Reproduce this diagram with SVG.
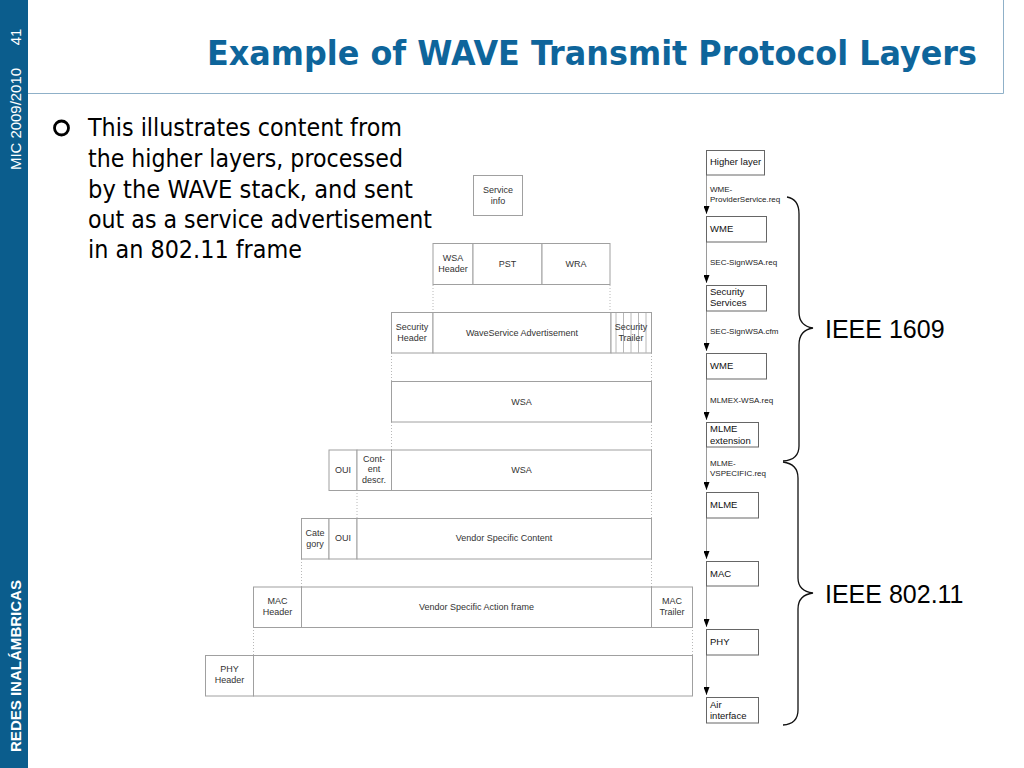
<svg xmlns="http://www.w3.org/2000/svg" width="1024" height="768" viewBox="0 0 1024 768">
<defs>
<style>
.bx{fill:#fff;stroke:#a0a0a0;stroke-width:1}
.rb{fill:#fff;stroke:#666;stroke-width:1}
.dot{stroke:#b8b8b8;stroke-width:1;stroke-dasharray:1 2;fill:none}
.hatch{stroke:#b8b8b8;stroke-width:1}
.t{font-family:"Liberation Sans",Arial,sans-serif;font-size:9px;fill:#333;text-anchor:middle}
.rt{font-family:"Liberation Sans",Arial,sans-serif;font-size:9.5px;fill:#111}
.lb{font-family:"Liberation Sans",Arial,sans-serif;font-size:8px;fill:#222}
.bul{font-family:"DejaVu Sans","Liberation Sans",sans-serif;font-size:24px;fill:#000}
.brace{fill:none;stroke:#111;stroke-width:1.3}
.ieee{font-family:"Liberation Sans",Arial,sans-serif;font-size:25px;fill:#000}
.side{font-family:"Liberation Sans",Arial,sans-serif;fill:#fff}
.conn{stroke:#9a9a9a;stroke-width:1;fill:none}
</style>
<marker id="ah" viewBox="0 0 8 6" refX="8" refY="3" markerWidth="8" markerHeight="6" markerUnits="userSpaceOnUse" orient="auto">
<path d="M0,0 L8,3 L0,6 Z" fill="#000"/>
</marker>
</defs>
<rect width="1024" height="768" fill="#fff"/>

<!-- sidebar -->
<g id="sidebar">
<rect x="0" y="0" width="28" height="768" fill="#0b5d8d"/>
<text class="side" transform="translate(21,37) rotate(-90)" font-size="15" text-anchor="middle">41</text>
<text class="side" transform="translate(21,119) rotate(-90)" font-size="14" text-anchor="middle" textLength="102" lengthAdjust="spacingAndGlyphs">MIC 2009/2010</text>
<text class="side" transform="translate(21,666) rotate(-90)" font-size="15" font-weight="bold" text-anchor="middle" textLength="172" lengthAdjust="spacingAndGlyphs">REDES INALÁMBRICAS</text>
</g>

<!-- title frame -->
<g id="title">
<path d="M28,93.5 H1003.5 V0" fill="none" stroke="#8fb0c8" stroke-width="1"/>
<text x="207" y="65" font-family="'DejaVu Sans','Liberation Sans',sans-serif" font-size="34" font-weight="bold" fill="#0e659b" textLength="770" lengthAdjust="spacingAndGlyphs">Example of WAVE Transmit Protocol Layers</text>
</g>

<!-- bullet text -->
<g id="bullet">
<circle cx="61.5" cy="128" r="7" fill="none" stroke="#000" stroke-width="2.8"/>
<text class="bul" x="88" y="136" textLength="314" lengthAdjust="spacingAndGlyphs">This illustrates content from</text>
<text class="bul" x="88" y="167" textLength="315" lengthAdjust="spacingAndGlyphs">the higher layers, processed</text>
<text class="bul" x="88" y="198" textLength="325" lengthAdjust="spacingAndGlyphs">by the WAVE stack, and sent</text>
<text class="bul" x="88" y="228" textLength="344" lengthAdjust="spacingAndGlyphs">out as a service advertisement</text>
<text class="bul" x="88" y="258" textLength="214" lengthAdjust="spacingAndGlyphs">in an 802.11 frame</text>
</g>

<!-- dotted guide lines between frame rows -->
<g id="guides">
<line class="dot" x1="433" y1="285" x2="433" y2="312"/>
<line class="dot" x1="610" y1="285" x2="610" y2="312"/>
<line class="dot" x1="391.5" y1="353" x2="391.5" y2="381"/>
<line class="dot" x1="651.5" y1="353" x2="651.5" y2="381"/>
<line class="dot" x1="391.5" y1="422" x2="391.5" y2="450"/>
<line class="dot" x1="651.5" y1="422" x2="651.5" y2="450"/>
<line class="dot" x1="357" y1="490" x2="357" y2="518"/>
<line class="dot" x1="651.5" y1="490" x2="651.5" y2="518"/>
<line class="dot" x1="301.5" y1="559" x2="301.5" y2="587"/>
<line class="dot" x1="651.5" y1="559" x2="651.5" y2="587"/>
<line class="dot" x1="253.5" y1="627" x2="253.5" y2="655"/>
<line class="dot" x1="692.5" y1="627" x2="692.5" y2="655"/>
</g>

<g id="service-info">
<rect class="bx" x="473.5" y="175.5" width="49" height="40"/>
<text class="t" x="498" y="193">Service</text>
<text class="t" x="498" y="204">info</text>
</g>

<g id="row-wsa-content">
<rect class="bx" x="433" y="243.5" width="40" height="41"/>
<rect class="bx" x="473" y="243.5" width="69" height="41"/>
<rect class="bx" x="542" y="243.5" width="68" height="41"/>
<text class="t" x="453" y="261">WSA</text>
<text class="t" x="453" y="272">Header</text>
<text class="t" x="507.5" y="267">PST</text>
<text class="t" x="576" y="267">WRA</text>
</g>

<g id="row-secured">
<rect class="bx" x="391.5" y="312.5" width="41.5" height="40.5"/>
<rect class="bx" x="433" y="312.5" width="178" height="40.5"/>
<rect class="bx" x="611" y="312.5" width="40.5" height="40.5"/>
<line class="hatch" x1="616" y1="313" x2="616" y2="353"/>
<line class="hatch" x1="623.5" y1="313" x2="623.5" y2="353"/>
<line class="hatch" x1="631" y1="313" x2="631" y2="353"/>
<line class="hatch" x1="638.5" y1="313" x2="638.5" y2="353"/>
<line class="hatch" x1="646" y1="313" x2="646" y2="353"/>
<text class="t" x="412" y="330">Security</text>
<text class="t" x="412" y="341">Header</text>
<text class="t" x="522" y="336">WaveService Advertisement</text>
<text class="t" x="631" y="330">Security</text>
<text class="t" x="631" y="341">Trailer</text>
</g>

<g id="row-wsa">
<rect class="bx" x="391.5" y="381.5" width="260" height="40.5"/>
<text class="t" x="521.5" y="405">WSA</text>
</g>

<g id="row-oui">
<rect class="bx" x="329" y="450" width="28" height="40.5"/>
<rect class="bx" x="357" y="450" width="34.5" height="40.5"/>
<rect class="bx" x="391.5" y="450" width="260" height="40.5"/>
<text class="t" x="343" y="473">OUI</text>
<text class="t" x="374" y="462">Cont-</text>
<text class="t" x="374" y="472">ent</text>
<text class="t" x="374" y="483">descr.</text>
<text class="t" x="521.5" y="473">WSA</text>
</g>

<g id="row-vendor-content">
<rect class="bx" x="301.5" y="518.5" width="27.5" height="40.5"/>
<rect class="bx" x="329" y="518.5" width="28" height="40.5"/>
<rect class="bx" x="357" y="518.5" width="294.5" height="40.5"/>
<text class="t" x="315" y="536">Cate</text>
<text class="t" x="315" y="547">gory</text>
<text class="t" x="343" y="541">OUI</text>
<text class="t" x="504" y="541">Vendor Specific Content</text>
</g>

<g id="row-mac">
<rect class="bx" x="253.5" y="587" width="48" height="40.5"/>
<rect class="bx" x="301.5" y="587" width="350" height="40.5"/>
<rect class="bx" x="651.5" y="587" width="41" height="40.5"/>
<text class="t" x="277.5" y="604">MAC</text>
<text class="t" x="277.5" y="615">Header</text>
<text class="t" x="476.5" y="610">Vendor Specific Action frame</text>
<text class="t" x="672" y="604">MAC</text>
<text class="t" x="672" y="615">Trailer</text>
</g>

<g id="row-phy">
<rect class="bx" x="205.5" y="655.5" width="48" height="40.5"/>
<rect class="bx" x="253.5" y="655.5" width="439" height="40.5"/>
<text class="t" x="229.5" y="672">PHY</text>
<text class="t" x="229.5" y="683">Header</text>
</g>

<!-- right column: connectors -->
<g id="connectors">
<line class="conn" x1="706.5" y1="175" x2="706.5" y2="214" marker-end="url(#ah)"/>
<line class="conn" x1="706.5" y1="242" x2="706.5" y2="283" marker-end="url(#ah)"/>
<line class="conn" x1="706.5" y1="311" x2="706.5" y2="351" marker-end="url(#ah)"/>
<line class="conn" x1="706.5" y1="379" x2="706.5" y2="420" marker-end="url(#ah)"/>
<line class="conn" x1="706.5" y1="447" x2="706.5" y2="490" marker-end="url(#ah)"/>
<line class="conn" x1="706.5" y1="518" x2="706.5" y2="559" marker-end="url(#ah)"/>
<line class="conn" x1="706.5" y1="586" x2="706.5" y2="627" marker-end="url(#ah)"/>
<line class="conn" x1="706.5" y1="655" x2="706.5" y2="695" marker-end="url(#ah)"/>
<text class="lb" x="710" y="192">WME-</text>
<text class="lb" x="710" y="202">ProviderService.req</text>
<text class="lb" x="710" y="265">SEC-SignWSA.req</text>
<text class="lb" x="710" y="334">SEC-SignWSA.cfm</text>
<text class="lb" x="710" y="403">MLMEX-WSA.req</text>
<text class="lb" x="710" y="466">MLME-</text>
<text class="lb" x="710" y="476">VSPECIFIC.req</text>
</g>

<g id="higher-layer"><rect class="rb" x="706.5" y="150.5" width="58" height="24.5"/><text class="rt" x="710" y="165">Higher layer</text></g>
<g id="wme-1"><rect class="rb" x="706.5" y="216.5" width="60" height="25.5"/><text class="rt" x="710" y="232">WME</text></g>
<g id="security-services"><rect class="rb" x="706.5" y="285.5" width="60" height="25.5"/><text class="rt" x="710" y="295">Security</text><text class="rt" x="710" y="306">Services</text></g>
<g id="wme-2"><rect class="rb" x="706.5" y="353.5" width="60" height="25.5"/><text class="rt" x="710" y="369">WME</text></g>
<g id="mlme-extension"><rect class="rb" x="706.5" y="422.5" width="52" height="24.5"/><text class="rt" x="710" y="432">MLME</text><text class="rt" x="710" y="444">extension</text></g>
<g id="mlme"><rect class="rb" x="706.5" y="492.5" width="52" height="25.5"/><text class="rt" x="710" y="508">MLME</text></g>
<g id="mac"><rect class="rb" x="706.5" y="561.5" width="52" height="24.5"/><text class="rt" x="710" y="577">MAC</text></g>
<g id="phy"><rect class="rb" x="706.5" y="629.5" width="52" height="25.5"/><text class="rt" x="710" y="645">PHY</text></g>
<g id="air-interface"><rect class="rb" x="706.5" y="697.5" width="52" height="25.5"/><text class="rt" x="710" y="708">Air</text><text class="rt" x="710" y="719">interface</text></g>

<!-- braces -->
<g id="ieee1609">
<path class="brace" d="M787,197 Q799,199 799,214 L799,312 Q799,326 813,328 Q799,330 799,345 L799,446 Q799,460 783,461"/>
<text class="ieee" x="825" y="338">IEEE 1609</text>
</g>
<g id="ieee80211">
<path class="brace" d="M783,462 Q798,464 798,478 L798,578 Q798,591 813,593 Q798,595 798,609 L798,710 Q798,724 783,725"/>
<text class="ieee" x="825" y="603">IEEE 802.11</text>
</g>
</svg>
